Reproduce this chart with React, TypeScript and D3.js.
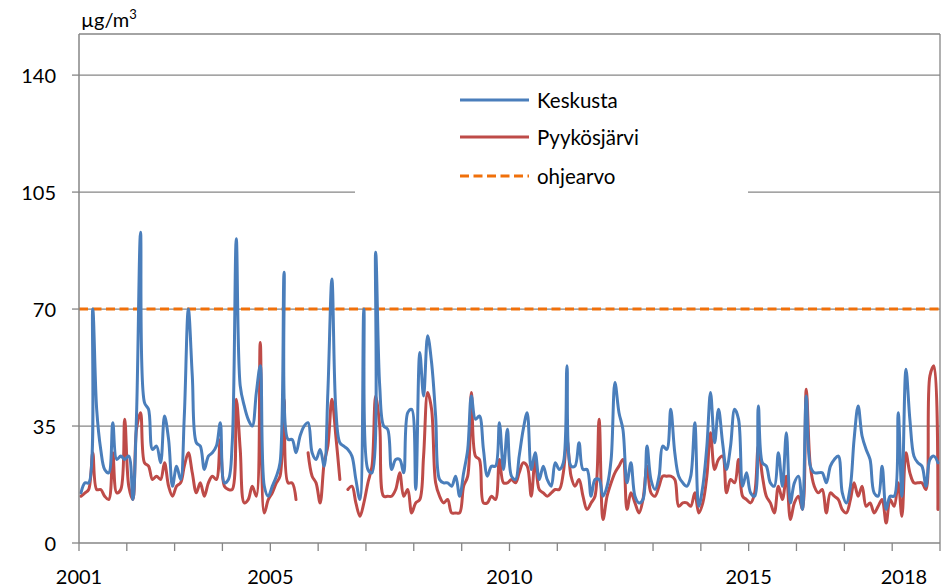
import React from 'react';
import * as d3 from 'd3';

// Monthly mean concentrations, one row per year (Jan..Dec), 2001–2018
const years = d3.range(2001, 2019);

const keskusta: number[][] = [
  [15, 18, 18, 70, 40, 28, 22, 21, 36, 25, 26, 25],
  [26, 13, 38, 93, 42, 40, 28, 29, 24, 38, 31, 17],
  [23, 19, 38, 70, 50, 30, 29, 22, 26, 27, 29, 36],
  [18, 19, 30, 91, 47, 41, 37, 35, 45, 53, 17, 14],
  [17, 20, 24, 81, 31, 31, 27, 32, 35, 36, 27, 25],
  [28, 23, 45, 79, 40, 30, 29, 28, 26, 19, 13, 70],
  [22, 21, 87, 47, 35, 34, 22, 25, 25, 21, 39, 40],
  [16, 57, 44, 62, 54, 38, 19, 18, 18, 17, 20, 14],
  [21, 28, 44, 37, 38, 28, 20, 23, 23, 36, 22, 34],
  [20, 19, 26, 34, 39, 22, 27, 19, 23, 19, 17, 24],
  [22, 24, 53, 23, 23, 30, 22, 22, 14, 19, 19, 14],
  [17, 25, 48, 39, 34, 18, 24, 14, 12, 13, 29, 19],
  [16, 20, 29, 28, 40, 27, 20, 18, 17, 20, 36, 11],
  [17, 29, 45, 30, 40, 30, 22, 29, 40, 37, 17, 21],
  [15, 14, 41, 24, 23, 18, 17, 27, 17, 33, 12, 18],
  [20, 10, 44, 23, 21, 21, 21, 18, 23, 25, 26, 15],
  [12, 17, 31, 41, 32, 28, 25, 15, 14, 23, 10, 14],
  [14, 39, 14, 52, 37, 26, 24, 23, 17, 25, 26, 24],
];

const pyykosjarvi: (number | null)[][] = [
  [14, 15, 16, 27, 16, 16, 14, 13, 27, 15, 16, 37],
  [17, 13, 34, 39, 24, 23, 19, 20, 19, 24, 17, 14],
  [17, 18, 23, 27, 21, 15, 18, 14, 18, 20, 19, 31],
  [17, 16, 16, 43, 28, 12, 13, 17, 14, 60, 9, 13],
  [15, 18, 20, 43, 18, 18, 13, null, null, 27, 20, 18],
  [12, 24, 29, 43, 32, 19, null, 16, 17, 12, 8, 12],
  [18, 23, 44, 35, 14, 14, 14, 16, 21, 14, 16, 9],
  [12, 13, 26, 45, 40, 18, 14, 12, 13, 9, 9, 9],
  [17, 20, 45, 26, 25, 12, 12, 14, 13, 25, 18, 18],
  [19, 18, 21, 24, 23, 14, 25, 16, 15, 14, 15, 16],
  [16, 21, 31, 20, 17, 19, 14, 10, 12, 14, 37, 7],
  [14, 18, 21, 23, 25, 10, 15, 12, 9, 13, 23, 15],
  [14, 17, 20, 20, 20, 19, 11, 12, 12, 11, 15, 9],
  [12, 20, 33, 22, 25, 26, 15, 19, 18, 25, 14, 13],
  [12, 15, 29, 20, 14, 12, 9, 17, 13, 20, 7, 12],
  [14, 10, 46, 23, 17, 15, 16, 9, 15, 14, 13, 10],
  [9, 13, 18, 14, 17, 11, 12, 9, 11, 13, 6, 13],
  [11, 18, 8, 27, 21, 18, 18, 18, 16, 50, 53, 10],
];

// Guideline value
const ohjearvo = 70;

const yTicks = [0, 35, 70, 105, 140];
const yMax = 152.3;
const xLabels = [
  { label: '2001', month: '2001-01' },
  { label: '2005', month: '2005-01' },
  { label: '2010', month: '2010-01' },
  { label: '2015', month: '2015-01' },
  { label: '2018', month: '2018-04' },
];

const seriesNames = ['Keskusta', 'Pyykösjärvi', 'ohjearvo'];
const colors = ['#4A7EBB', '#BE4B48', '#F0700A'];

type Pt = { date: Date; v: number | null };

const toPoints = (rows: (number | null)[][]): Pt[] =>
  rows.flatMap((row, yi) =>
    row.map((v, mi) => ({ date: new Date(years[yi], mi, 16), v }))
  );

const W = 950;
const H = 587;
const left = 79;
const right = 940;
const top = 34;
const bottom = 543;
const FONT = 'Lato, "Open Sans", sans-serif';
const GRID = '#868686';

export default function App() {
  const x = d3
    .scaleTime()
    .domain([new Date(years[0], 0, 1), new Date(years[years.length - 1] + 1, 0, 1)])
    .range([left, right]);
  const y = d3.scaleLinear().domain([0, yMax]).range([bottom, top]);

  const line = d3
    .line<Pt>()
    .defined((p) => p.v != null)
    .x((p) => x(p.date))
    .y((p) => y(p.v as number))
    .curve(d3.curveCatmullRom.alpha(0.5));

  const kPts = toPoints(keskusta);
  const pPts = toPoints(pyykosjarvi);

  const yearTicks = d3.range(years[0], years[years.length - 1] + 2).map((yr) => new Date(yr, 0, 1));
  const parseMonth = d3.timeParse('%Y-%m');

  // legend box
  const lgX0 = 355;
  const lgX1 = 748;
  const lgY0 = 80;
  const lgY1 = 200;
  const lgRows = [100, 137, 176];

  return (
    <svg
      width={W}
      height={H}
      style={{ position: 'absolute', left: 0, top: 0, background: '#fff' }}
      fontFamily={FONT}
    >
      <rect x={0} y={0} width={W} height={H} fill="#fff" />

      {/* horizontal gridlines */}
      {yTicks.filter((t) => t > 0).map((t) => (
        <line key={t} x1={left} x2={right} y1={y(t)} y2={y(t)} stroke={GRID} strokeWidth={1.3} />
      ))}

      {/* plot frame */}
      <line x1={left} x2={right} y1={top} y2={top} stroke={GRID} strokeWidth={1.3} />
      <line x1={right} x2={right} y1={top} y2={bottom} stroke={GRID} strokeWidth={1.3} />

      {/* legend background */}
      <rect x={lgX0} y={lgY0} width={lgX1 - lgX0} height={lgY1 - lgY0} fill="#fff" />

      {/* guideline */}
      <line
        x1={x.range()[0]}
        x2={x.range()[1]}
        y1={y(ohjearvo)}
        y2={y(ohjearvo)}
        stroke={colors[2]}
        strokeWidth={3}
        strokeDasharray="9,4.5"
      />

      {/* series */}
      <path d={line(pPts) ?? ''} fill="none" stroke={colors[1]} strokeWidth={3} strokeLinejoin="round" strokeLinecap="round" />
      <path d={line(kPts) ?? ''} fill="none" stroke={colors[0]} strokeWidth={3} strokeLinejoin="round" strokeLinecap="round" />

      {/* axes */}
      <line x1={left} x2={left} y1={top} y2={bottom} stroke={GRID} strokeWidth={1.5} />
      <line x1={left} x2={right} y1={bottom} y2={bottom} stroke={GRID} strokeWidth={1.5} />
      {yTicks.map((t) => (
        <g key={t}>
          <line x1={left - 7} x2={left} y1={y(t)} y2={y(t)} stroke={GRID} strokeWidth={1.3} />
          <text x={56} y={y(t)} textAnchor="end" dominantBaseline="central" fontSize={20} fill="#000">
            {t}
          </text>
        </g>
      ))}
      {yearTicks.map((d, i) => (
        <line key={i} x1={x(d)} x2={x(d)} y1={bottom} y2={bottom + 8} stroke={GRID} strokeWidth={1.3} />
      ))}
      {xLabels.map((l) => (
        <text key={l.label} x={x(parseMonth(l.month) as Date)} y={584} textAnchor="middle" fontSize={20} fill="#000">
          {l.label}
        </text>
      ))}

      {/* unit */}
      <text x={81} y={27} fontSize={20} fill="#000">
        µg/m<tspan fontSize={13} dy={-8}>3</tspan>
      </text>

      {/* legend */}
      {seriesNames.map((name, i) => (
        <g key={name}>
          <line
            x1={460}
            x2={529}
            y1={lgRows[i]}
            y2={lgRows[i]}
            stroke={colors[i]}
            strokeWidth={3}
            strokeDasharray={i === 2 ? '9,4.5' : undefined}
          />
          <text x={537} y={lgRows[i]} dominantBaseline="central" fontSize={20.5} fill="#000">
            {name}
          </text>
        </g>
      ))}
    </svg>
  );
}
